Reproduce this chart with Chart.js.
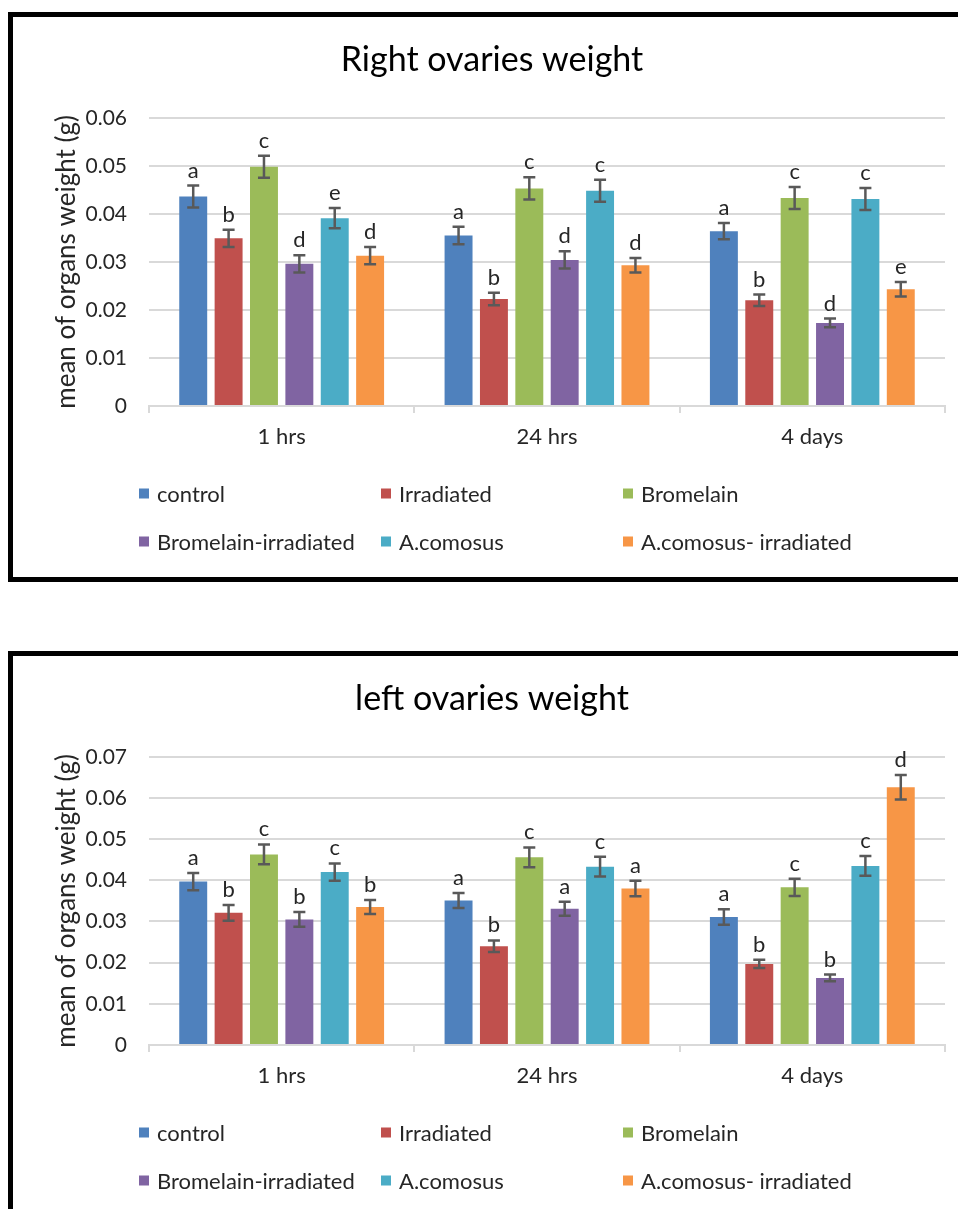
<!DOCTYPE html>
<html>
<head>
<meta charset="utf-8">
<title>Ovaries weight</title>
<script src="https://cdn.jsdelivr.net/npm/chart.js@4.4.1/dist/chart.umd.min.js"></script>
<style>
  html, body { margin: 0; padding: 0; background: #fff; overflow: hidden; width: 958px; height: 1209px; }
  .panel { position: absolute; left: 8px; border: 5px solid #000; width: 1000px; background: #fff; }
  #panelRight { top: 12px; height: 560px; }
  #panelLeft { top: 651px; height: 600px; }
  .panel canvas { position: absolute; left: 0; top: 0; }
  .legend { position: absolute; left: 0; top: 0; font-family: Lato, sans-serif; font-size: 22px; color: #262626; }
  .legend .item { position: absolute; display: flex; align-items: center; white-space: nowrap; transform: translateY(-50%); }
  .legend .swatch { width: 10px; height: 10px; margin-right: 8px; flex: none; }
</style>
</head>
<body>
<div class="panel" id="panelRight">
  <canvas id="rightChart" width="945" height="560"></canvas>
  <div class="legend" id="rightLegend"></div>
</div>
<div class="panel" id="panelLeft">
  <canvas id="leftChart" width="945" height="553"></canvas>
  <div class="legend" id="leftLegend"></div>
</div>
<script>
// Sampling times and treatment groups
const categories = ['1 hrs', '24 hrs', '4 days'];
const seriesNames = ['control', 'Irradiated', 'Bromelain', 'Bromelain-irradiated', 'A.comosus', 'A.comosus- irradiated'];
const seriesColors = ['#4F81BD', '#C0504D', '#9BBB59', '#8064A2', '#4BACC6', '#F79646'];

// Right ovaries: mean weight (g)
const rightControl      = [0.0436, 0.0355, 0.0364];
const rightIrradiated   = [0.0349, 0.0223, 0.0220];
const rightBromelain    = [0.0498, 0.0453, 0.0433];
const rightBromelainIrr = [0.0296, 0.0304, 0.0173];
const rightComosus      = [0.0391, 0.0448, 0.0431];
const rightComosusIrr   = [0.0313, 0.0293, 0.0243];
// Right ovaries: error (g)
const rightControlErr      = [0.0023, 0.0018, 0.0017];
const rightIrradiatedErr   = [0.0018, 0.0013, 0.0012];
const rightBromelainErr    = [0.0023, 0.0023, 0.0023];
const rightBromelainIrrErr = [0.0018, 0.0018, 0.0009];
const rightComosusErr      = [0.0021, 0.0023, 0.0023];
const rightComosusIrrErr   = [0.0018, 0.0015, 0.0015];
// Right ovaries: significance letters
const rightControlSig      = ['a', 'a', 'a'];
const rightIrradiatedSig   = ['b', 'b', 'b'];
const rightBromelainSig    = ['c', 'c', 'c'];
const rightBromelainIrrSig = ['d', 'd', 'd'];
const rightComosusSig      = ['e', 'c', 'c'];
const rightComosusIrrSig   = ['d', 'd', 'e'];

// Left ovaries: mean weight (g)
const leftControl      = [0.0397, 0.0351, 0.0311];
const leftIrradiated   = [0.0321, 0.0240, 0.0197];
const leftBromelain    = [0.0463, 0.0456, 0.0383];
const leftBromelainIrr = [0.0305, 0.0331, 0.0163];
const leftComosus      = [0.0420, 0.0433, 0.0435];
const leftComosusIrr   = [0.0335, 0.0380, 0.0626];
// Left ovaries: error (g)
const leftControlErr      = [0.0021, 0.0018, 0.0019];
const leftIrradiatedErr   = [0.0019, 0.0014, 0.0010];
const leftBromelainErr    = [0.0024, 0.0024, 0.0021];
const leftBromelainIrrErr = [0.0018, 0.0017, 0.0008];
const leftComosusErr      = [0.0021, 0.0024, 0.0024];
const leftComosusIrrErr   = [0.0017, 0.0019, 0.0030];
// Left ovaries: significance letters
const leftControlSig      = ['a', 'a', 'a'];
const leftIrradiatedSig   = ['b', 'b', 'b'];
const leftBromelainSig    = ['c', 'c', 'c'];
const leftBromelainIrrSig = ['b', 'a', 'b'];
const leftComosusSig      = ['c', 'c', 'c'];
const leftComosusIrrSig   = ['b', 'a', 'd'];

const FONT = 'Lato, "Open Sans", sans-serif';
const TEXT = '#262626';

// Error bars with caps, plus the significance letter above each bar
const errorBarPlugin = {
  id: 'errorBars',
  afterDatasetsDraw(chart) {
    const ctx = chart.ctx;
    const yScale = chart.scales.y;
    ctx.save();
    chart.data.datasets.forEach((ds, di) => {
      const meta = chart.getDatasetMeta(di);
      meta.data.forEach((bar, i) => {
        const v = ds.data[i];
        const e = ds.errors[i];
        const yTop = yScale.getPixelForValue(v + e);
        const yBot = yScale.getPixelForValue(v - e);
        const x = bar.x;
        ctx.strokeStyle = '#595959';
        ctx.lineWidth = 2.5;
        ctx.beginPath();
        ctx.moveTo(x, yTop); ctx.lineTo(x, yBot);
        ctx.moveTo(x - 6, yTop); ctx.lineTo(x + 6, yTop);
        ctx.moveTo(x - 6, yBot); ctx.lineTo(x + 6, yBot);
        ctx.stroke();
        ctx.fillStyle = TEXT;
        ctx.font = '22px ' + FONT;
        ctx.textAlign = 'center';
        ctx.textBaseline = 'alphabetic';
        ctx.fillText(ds.letters[i], x, yTop - 8);
      });
    });
    ctx.restore();
  }
};

function buildChart(canvasId, legendId, titleText, yMax, means, errs, sigs) {
  const canvas = document.getElementById(canvasId);
  const datasets = seriesNames.map((name, i) => ({
    label: name,
    data: means[i],
    errors: errs[i],
    letters: sigs[i],
    backgroundColor: seriesColors[i],
    borderWidth: 0,
    categoryPercentage: 0.8,
    barPercentage: 0.79
  }));
  const chart = new Chart(canvas, {
    type: 'bar',
    data: { labels: categories, datasets },
    options: {
      responsive: false,
      animation: false,
      layout: { padding: { left: 26, right: 13, top: 0, bottom: canvas.height - 389 - 52 } },
      plugins: {
        legend: { display: false },
        tooltip: { enabled: false },
        title: {
          display: true,
          text: titleText,
          color: '#000',
          font: { family: FONT, size: 34, weight: 'normal' },
          padding: { top: 23, bottom: 37 }
        }
      },
      scales: {
        x: {
          grid: { offset: true, drawOnChartArea: false, drawTicks: true, tickLength: 7, color: '#d9d9d9', lineWidth: 2 },
          border: { display: true, color: '#d9d9d9', width: 2 },
          ticks: { color: TEXT, font: { family: FONT, size: 22 }, padding: 11 },
          afterFit: s => { s.height = 52; }
        },
        y: {
          min: 0,
          max: yMax,
          ticks: {
            stepSize: 0.01,
            color: TEXT,
            font: { family: FONT, size: 21 },
            padding: 22,
            callback: v => (v === 0 ? '0' : v.toFixed(2))
          },
          grid: { color: '#d9d9d9', lineWidth: 2, drawTicks: false },
          border: { display: false },
          title: {
            display: true,
            text: 'mean of organs weight (g)',
            color: TEXT,
            font: { family: FONT, size: 26 },
            padding: { top: 12 }
          },
          afterFit: s => { s.width = 110; }
        }
      }
    },
    plugins: [errorBarPlugin]
  });

  // Three-column legend built from the chart's datasets
  const legend = document.getElementById(legendId);
  chart.data.datasets.forEach((ds, i) => {
    const item = document.createElement('div');
    item.className = 'item';
    item.style.left = (126 + (i % 3) * 242) + 'px';
    item.style.top = (476 + Math.floor(i / 3) * 48) + 'px';
    const sw = document.createElement('span');
    sw.className = 'swatch';
    sw.style.background = ds.backgroundColor;
    const tx = document.createElement('span');
    tx.textContent = ds.label;
    item.appendChild(sw);
    item.appendChild(tx);
    legend.appendChild(item);
  });
  return chart;
}

function draw() {
  buildChart('rightChart', 'rightLegend', 'Right ovaries weight', 0.06,
    [rightControl, rightIrradiated, rightBromelain, rightBromelainIrr, rightComosus, rightComosusIrr],
    [rightControlErr, rightIrradiatedErr, rightBromelainErr, rightBromelainIrrErr, rightComosusErr, rightComosusIrrErr],
    [rightControlSig, rightIrradiatedSig, rightBromelainSig, rightBromelainIrrSig, rightComosusSig, rightComosusIrrSig]);
  buildChart('leftChart', 'leftLegend', 'left ovaries weight', 0.07,
    [leftControl, leftIrradiated, leftBromelain, leftBromelainIrr, leftComosus, leftComosusIrr],
    [leftControlErr, leftIrradiatedErr, leftBromelainErr, leftBromelainIrrErr, leftComosusErr, leftComosusIrrErr],
    [leftControlSig, leftIrradiatedSig, leftBromelainSig, leftBromelainIrrSig, leftComosusSig, leftComosusIrrSig]);
}

if (document.fonts && document.fonts.load) {
  Promise.all([document.fonts.load('22px Lato')]).then(draw, draw);
} else {
  draw();
}
</script>
</body>
</html>
